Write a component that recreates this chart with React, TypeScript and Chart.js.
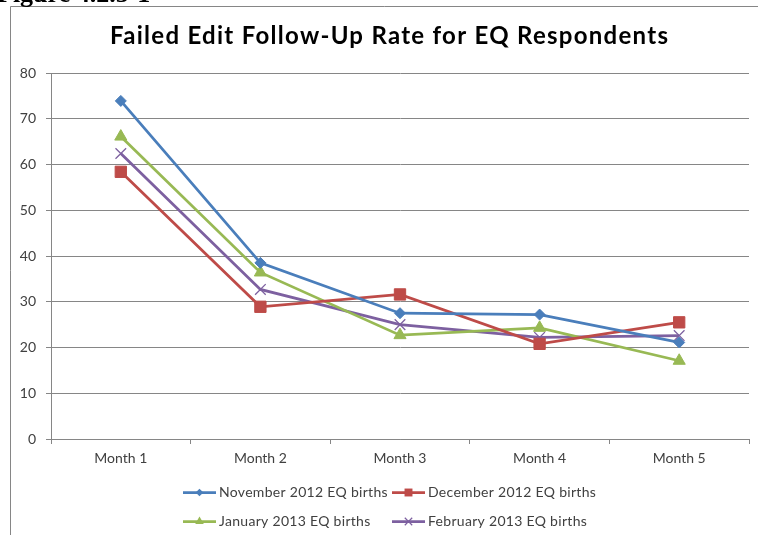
import React, { useEffect, useRef } from "react";
import { Chart, registerables } from "chart.js";

Chart.register(...registerables);

const categories = ["Month 1", "Month 2", "Month 3", "Month 4", "Month 5"];
const seriesNames = [
  "November 2012 EQ births",
  "December 2012 EQ births",
  "January 2013 EQ births",
  "February 2013 EQ births",
];
const nov2012 = [73.9, 38.5, 27.5, 27.2, 21.1];
const dec2012 = [58.4, 28.9, 31.6, 20.8, 25.5];
const jan2013 = [66.1, 36.4, 22.7, 24.3, 17.1];
const feb2013 = [62.4, 32.7, 25.0, 22.2, 22.6];
const yMin = 0;
const yMax = 80;
const yStep = 10;
const titleText = "Failed Edit Follow-Up Rate for EQ Respondents";
const captionText = "Figure 4.2.5-1";

const colors = ["#4A7EBB", "#BE4B48", "#98B954", "#7D60A0"];
const pointStyles = ["rectRot", "rect", "triangle", "crossRot"];
const pointRadii = [5.5, 8, 7, 7.5];

const FONT = "Lato, 'Open Sans', sans-serif";

function drawMarker(ctx: CanvasRenderingContext2D, style: string, x: number, y: number, r: number, color: string) {
  ctx.save();
  ctx.fillStyle = color;
  ctx.strokeStyle = color;
  ctx.lineWidth = 1;
  ctx.beginPath();
  if (style === "rectRot") {
    ctx.moveTo(x - r, y);
    ctx.lineTo(x, y - r);
    ctx.lineTo(x + r, y);
    ctx.lineTo(x, y + r);
    ctx.closePath();
    ctx.fill();
  } else if (style === "rect") {
    const s = r * Math.SQRT1_2;
    ctx.rect(x - s, y - s, 2 * s, 2 * s);
    ctx.fill();
  } else if (style === "triangle") {
    const a = -Math.PI / 2;
    for (let i = 0; i < 3; i++) {
      const ang = a + (i * 2 * Math.PI) / 3;
      const px = x + Math.cos(ang) * r;
      const py = y + Math.sin(ang) * r;
      if (i === 0) ctx.moveTo(px, py);
      else ctx.lineTo(px, py);
    }
    ctx.closePath();
    ctx.fill();
  } else {
    const d = r * Math.SQRT1_2;
    ctx.lineWidth = 1.2;
    ctx.moveTo(x - d, y - d);
    ctx.lineTo(x + d, y + d);
    ctx.moveTo(x + d, y - d);
    ctx.lineTo(x - d, y + d);
    ctx.stroke();
  }
  ctx.restore();
}

function fillTextToWidth(ctx: CanvasRenderingContext2D, text: string, x: number, y: number, width: number) {
  (ctx as any).letterSpacing = "0px";
  const w = ctx.measureText(text).width;
  const sp = (width - w) / Math.max(1, text.length - 1);
  (ctx as any).letterSpacing = `${sp}px`;
  ctx.fillText(text, x, y);
  (ctx as any).letterSpacing = "0px";
}

const decorPlugin = {
  id: "decor",
  beforeDraw(chart: any) {
    const ctx: CanvasRenderingContext2D = chart.ctx;
    ctx.save();
    ctx.fillStyle = "#ffffff";
    ctx.fillRect(0, 0, chart.width, chart.height);
    // outer chart frame
    ctx.strokeStyle = "#868686";
    ctx.lineWidth = 1;
    ctx.beginPath();
    ctx.moveTo(10.5, chart.height);
    ctx.lineTo(10.5, 6.5);
    ctx.lineTo(chart.width, 6.5);
    ctx.stroke();
    // cut-off caption
    ctx.fillStyle = "#000000";
    ctx.font = "bold 26px 'Liberation Serif', serif";
    ctx.textBaseline = "alphabetic";
    ctx.textAlign = "left";
    ctx.fillText(captionText, -3, 2);
    // title
    ctx.font = `bold 24px ${FONT}`;
    ctx.textAlign = "left";
    fillTextToWidth(ctx, titleText, 110, 43.5, 558);
    ctx.restore();
  },
  afterDraw(chart: any) {
    const ctx: CanvasRenderingContext2D = chart.ctx;
    const cols = [183, 392];
    const rows = [492.5, 521.5];
    ctx.save();
    chart.data.datasets.forEach((ds: any, i: number) => {
      const x = cols[i % 2];
      const y = rows[Math.floor(i / 2)];
      ctx.strokeStyle = ds.borderColor;
      ctx.lineWidth = 2.75;
      ctx.beginPath();
      ctx.moveTo(x, y);
      ctx.lineTo(x + 33, y);
      ctx.stroke();
      drawMarker(ctx, ds.pointStyle, x + 16.5, y, ds.pointRadius * 0.7, ds.borderColor);
      ctx.fillStyle = "#404040";
      ctx.font = `14px ${FONT}`;
      ctx.textAlign = "left";
      ctx.textBaseline = "middle";
      (ctx as any).letterSpacing = "0.3px";
      ctx.fillText(ds.label, x + 36, y);
      (ctx as any).letterSpacing = "0px";
    });
    ctx.restore();
  },
};

export default function App() {
  const ref = useRef<HTMLCanvasElement | null>(null);
  useEffect(() => {
    if (!ref.current) return;
    const seriesValues = [nov2012, dec2012, jan2013, feb2013];
    const chart = new Chart(ref.current, {
      type: "line",
      data: {
        labels: categories,
        datasets: seriesValues.map((vals, i) => ({
          label: seriesNames[i],
          data: vals,
          borderColor: colors[i],
          backgroundColor: colors[i],
          pointBackgroundColor: colors[i],
          pointBorderColor: colors[i],
          pointBorderWidth: i === 3 ? 1.3 : 1,
          borderWidth: 2.75,
          pointStyle: pointStyles[i] as any,
          pointRadius: pointRadii[i],
          tension: 0,
          fill: false,
        })),
      },
      options: {
        animation: false,
        responsive: false,
        devicePixelRatio: 1,
        layout: { padding: { left: 0, top: 73, right: 7, bottom: 0 } },
        plugins: {
          legend: { display: false },
          title: { display: false },
          tooltip: { enabled: false },
        },
        scales: {
          x: {
            type: "category",
            offset: true,
            grid: {
              offset: true,
              drawOnChartArea: false,
              drawTicks: true,
              tickLength: 5,
              color: "#868686",
            },
            border: { display: true, color: "#868686" },
            ticks: {
              color: "#404040",
              font: { family: FONT, size: 14 },
              padding: 6,
              maxRotation: 0,
            },
            afterFit: (scale: any) => {
              scale.height = 96;
            },
          },
          y: {
            min: yMin,
            max: yMax,
            grid: {
              color: "#868686",
              drawTicks: true,
              tickLength: 5,
            },
            border: { display: true, color: "#868686" },
            ticks: {
              stepSize: yStep,
              color: "#404040",
              font: { family: FONT, size: 14 },
              padding: 10,
            },
            afterFit: (scale: any) => {
              scale.width = 51;
            },
          },
        },
      },
      plugins: [decorPlugin],
    });
    return () => chart.destroy();
  }, []);
  return (
    <div style={{ position: "fixed", left: 0, top: 0, width: 758, height: 535, background: "#fff" }}>
      <canvas ref={ref} width={758} height={535} style={{ display: "block", width: 758, height: 535 }} />
    </div>
  );
}
